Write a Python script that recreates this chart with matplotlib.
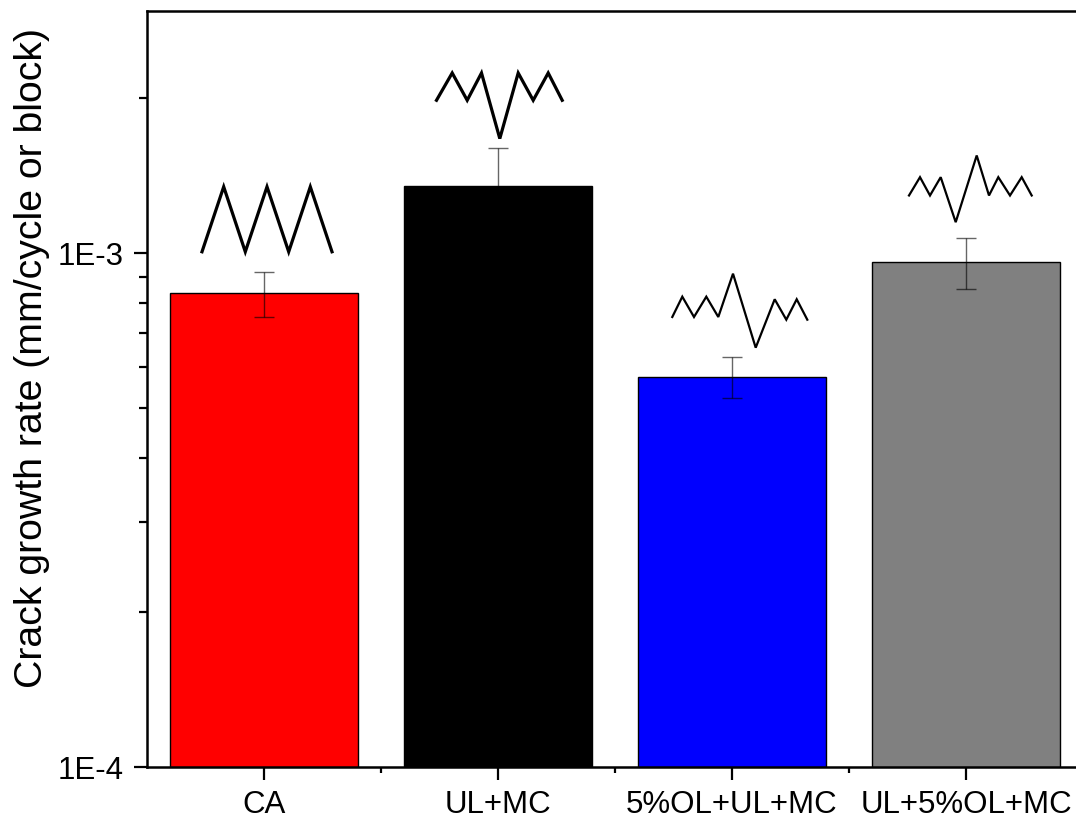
import numpy as np
import matplotlib
matplotlib.use("Agg")
import matplotlib.pyplot as plt
from matplotlib.ticker import FixedLocator, LogLocator, FuncFormatter, NullFormatter
from matplotlib.transforms import ScaledTranslation

plt.rcParams['font.family'] = ['Liberation Sans', 'DejaVu Sans']

# Crack growth rates per loading spectrum
categories = ["CA", "UL+MC", "5%OL+UL+MC", "UL+5%OL+MC"]
rates = [8.35e-4, 1.35e-3, 5.75e-4, 9.60e-4]
rate_err = [8.5e-5, 2.5e-4, 5.3e-5, 1.08e-4]
bar_colors = ["#FF0000", "#000000", "#0000FF", "#808080"]

# Sketches of each load spectrum, drawn above every bar
# (vertices in pixels, relative to the top of the error bar)
spectrum_x = [
    [-62, -40.3, -18.7, 3, 24.7, 46.3, 68],
    [-61.5, -45.8, -30.8, -16.5, 1.8, 20.2, 35.2, 50.2, 64.2],
    [-59.7, -49.7, -38, -25.7, -13.7, 1, 23.7, 42.7, 54.3, 64.7, 75.3],
    [-57, -46, -36, -25.3, -10.3, 10.7, 23, 32.3, 44, 55.7, 65.7],
]
spectrum_y = [
    [20, 85, 20, 85, 20, 85, 20],
    [48, 75.3, 48, 75.3, 9.7, 75.3, 48, 75.3, 48],
    [40, 60.3, 40, 60.3, 40, 83.3, 9.3, 57.7, 37.3, 57.7, 37.3],
    [43, 61.3, 43, 61.3, 16.3, 83, 43, 61.3, 43, 61.3, 43],
]
spectrum_lw = [2.3, 2.3, 1.6, 1.6]

W, H, DPI = 1076, 822, 100
fig = plt.figure(figsize=(W / DPI, H / DPI), dpi=DPI)
ax = fig.add_axes([147 / W, 55 / H, 936 / W, 756 / H])

x = np.arange(1, len(categories) + 1)
ax.bar(x, rates, width=0.8, color=bar_colors, edgecolor="black",
       linewidth=1.0, zorder=2)
ax.errorbar(x, rates, yerr=rate_err, fmt="none", ecolor=(0, 0, 0, 0.6),
            elinewidth=1.0, capsize=7, capthick=1.0, zorder=3)

ax.set_yscale("log")
ax.set_ylim(1e-4, 2.96e-3)
ax.set_xlim(0.5, 4.5)

ax.yaxis.set_major_locator(FixedLocator([1e-4, 1e-3]))
ax.yaxis.set_major_formatter(
    FuncFormatter(lambda v, p: "1E%d" % int(round(np.log10(v)))))
ax.yaxis.set_minor_locator(LogLocator(base=10, subs=np.arange(2, 10)))
ax.yaxis.set_minor_formatter(NullFormatter())

ax.set_xticks(x)
ax.set_xticklabels(categories)
ax.set_xticks([1.5, 2.5, 3.5], minor=True)

ax.tick_params(axis="both", which="major", direction="out", length=9.5,
               width=1.6, labelsize=22.5, pad=7, top=False, right=False)
ax.tick_params(axis="both", which="minor", direction="out", length=5.5,
               width=1.6, top=False, right=False)
ax.tick_params(axis="x", which="minor", length=4.5)

for side in ["left", "bottom", "top"]:
    ax.spines[side].set_linewidth(1.8)
ax.spines["right"].set_visible(False)

ax.set_ylabel("Crack growth rate (mm/cycle or block)", fontsize=28.3)
ax.yaxis.set_label_coords(-0.104, 0.541)

# Load-spectrum sketches
for i in range(len(categories)):
    anchor = ScaledTranslation(x[i], rates[i] + rate_err[i], ax.transData)
    trans = fig.dpi_scale_trans + anchor
    xs = np.array(spectrum_x[i]) / DPI
    ys = np.array(spectrum_y[i]) / DPI
    ax.plot(xs, ys, color="black", lw=spectrum_lw[i], transform=trans,
            clip_on=False, solid_joinstyle="miter", zorder=4)

fig.savefig("out.png", dpi=DPI, facecolor="white")
